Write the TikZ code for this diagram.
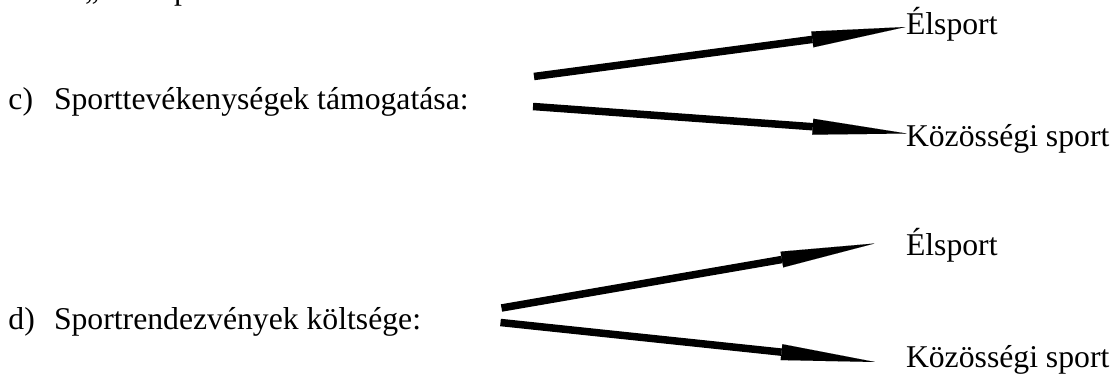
\documentclass[tikz,border=0pt]{standalone}
\usepackage{fontspec}
\setmainfont{Liberation Serif}
\usetikzlibrary{arrows.meta}
\begin{document}
\begin{tikzpicture}[x=1pt,y=-1pt,
  lbl/.style={anchor=base west,inner sep=0pt,outer sep=0pt,font=\fontsize{31.7}{36}\selectfont},
  arr/.style={line width=7.5pt,-{Triangle[length=94pt,width=16pt,line width=0.01pt]}}]
\useasboundingbox (0,0) rectangle (1117,374);
\begin{scope}
\clip (0,0) rectangle (1117,374);
\node[lbl] (frq) at (85,0) {„};
\node[lbl] (frp) at (174,0) {p};
\end{scope}
\node[lbl] (cl) at (8.5,110) {c)};
\node[lbl] (ct) at (54,110) {Sporttevékenységek támogatása:};
\node[lbl] (dl) at (8.5,330) {d)};
\node[lbl] (dt) at (54,330) {Sportrendezvények költsége:};
\node[lbl] (ce) at (906,35) {Élsport};
\node[lbl] (ck) at (906,146.5) {Közösségi sport};
\node[lbl] (de) at (906,256) {Élsport};
\node[lbl] (dk) at (906,367) {Közösségi sport};
\coordinate (c1s) at (534,76.5);
\coordinate (c1t) at (905.5,27);
\coordinate (c2s) at (533,106.5);
\coordinate (c2t) at (906.5,133.5);
\coordinate (d1s) at (501.5,308);
\coordinate (d1t) at (874.5,243.5);
\coordinate (d2s) at (500.5,322.5);
\coordinate (d2t) at (875,362);
\draw[arr] (c1s) -- (c1t);
\draw[arr] (c2s) -- (c2t);
\draw[arr] (d1s) -- (d1t);
\draw[arr] (d2s) -- (d2t);
\end{tikzpicture}
\end{document}
